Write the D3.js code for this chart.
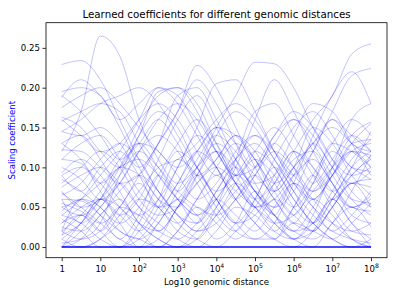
<!DOCTYPE html>
<html>
<head>
<meta charset="utf-8">
<script src="https://cdn.jsdelivr.net/npm/d3@7"></script>
<style>
  body { margin: 0; background: #fff; }
  text { font-family: "DejaVu Sans", sans-serif; }
</style>
</head>
<body>
<svg id="chart"></svg>
<script>
// Learned coefficients, one curve per learned filter
const width = 396;
const height = 297;
const margin = { top: 22.7, right: 9, bottom: 39.3, left: 46 };

// log10 of genomic distance where each coefficient was read
const logDistance = [0, 0.5, 1, 1.5, 2, 2.5, 3, 3.5, 4, 4.5, 5, 5.5, 6, 6.5, 7, 7.5, 8];

const coeffs = [
    [.229, .234, .21, .16, .11, .07, .04, .02, .04, .08, .11, .09, .05, .03, .06, .10, .12],
    [.12, .17, .265, .24, .16, .11, .08, .10, .13, .11, .07, .04, .02, .05, .09, .13, .155],
    [.195, .20, .19, .15, .10, .06, .05, .09, .14, .17, .15, .11, .08, .06, .09, .13, .135],
    [.188, .21, .19, .16, .18, .20, .18, .14, .10, .07, .05, .03, .01, .04, .10, .16, .18],
    [.163, .15, .12, .10, .14, .195, .20, .17, .12, .09, .10, .13, .16, .14, .10, .08, .095],
    [.158, .17, .18, .17, .13, .09, .06, .04, .06, .10, .16, .21, .17, .12, .08, .05, .065],
    [.145, .14, .15, .13, .10, .13, .17, .228, .20, .15, .10, .06, .03, .02, .05, .08, .085],
    [.13, .14, .11, .07, .03, .01, 0, .01, .05, .11, .17, .18, .14, .10, .07, .09, .115],
    [.122, .12, .10, .08, .09, .13, .19, .20, .16, .11, .07, .05, .07, .12, .17, .215, .224],
    [.11, .13, .14, .11, .07, .05, .06, .10, .15, .19, .232, .23, .20, .15, .11, .09, .10],
    [.093, .11, .09, .06, .04, .06, .10, .15, .205, .21, .17, .12, .08, .05, .03, .02, .03],
    [.085, .07, .05, .03, .05, .09, .13, .16, .13, .09, .06, .08, .12, .16, .19, .242, .255],
    [.07, .05, .06, .09, .12, .10, .07, .05, .04, .06, .10, .14, .16, .13, .09, .06, .055],
    [.06, .058, .04, .02, .01, .03, .07, .11, .14, .12, .09, .07, .10, .15, .13, .09, .065],
    [.05, .06, .08, .10, .11, .09, .06, .04, .07, .11, .13, .10, .06, .03, .01, 0, 0],
    [.03, .05, .06, .04, .02, .05, .10, .14, .12, .08, .05, .07, .11, .12, .08, .04, .03],
    [.025, .02, .04, .07, .09, .07, .04, .02, .03, .06, .09, .12, .10, .07, .10, .14, .157],
    [.01, .03, .06, .05, .02, 0, .02, .06, .10, .13, .11, .07, .04, .08, .13, .12, .10],
    [.005, .01, .03, .09, .14, .17, .15, .10, .06, .03, .04, .08, .12, .09, .05, .02, .015],
    [0, .02, .05, .08, .12, .14, .12, .08, .04, .02, .06, .11, .15, .17, .14, .10, .095],
    [.09, .10, .08, .05, .03, .02, .05, .09, .12, .10, .08, .09, .12, .10, .07, .05, .06],
    [.04, .03, .01, 0, .02, .06, .11, .09, .05, .02, .01, .03, .08, .14, .19, .22, .18],
    [.11, .105, .07, .04, .06, .11, .16, .19, .15, .10, .06, .04, .02, .01, .03, .07, .115],
    [.02, .04, .07, .11, .13, .12, .09, .06, .08, .12, .14, .11, .07, .04, .02, .01, .005],
    [0, 0, .01, .04, .07, .10, .11, .13, .16, .18, .16, .12, .09, .12, .16, .13, .12],
    [.065, .08, .11, .13, .11, .07, .04, .03, .06, .09, .07, .04, .02, .03, .07, .11, .135],
    [.035, .02, 0, 0, .01, .04, .08, .12, .15, .13, .10, .14, .17, .15, .11, .07, .05],
    [.015, .03, .06, .10, .15, .19, .20, .18, .13, .08, .05, .03, .04, .07, .10, .12, .115],
    [.145, .16, .18, .19, .20, .18, .14, .10, .07, .09, .12, .10, .06, .03, .01, 0, .01],
    [.055, .045, .03, .05, .09, .13, .17, .21, .18, .13, .08, .05, .09, .13, .10, .06, .04],
    [.075, .09, .10, .08, .05, .03, .01, 0, .02, .05, .04, .02, .05, .09, .13, .16, .14],
    [.02, .01, .02, .05, .04, .02, .01, .03, .06, .04, .02, .05, .08, .06, .03, .01, 0],
    [.045, .06, .05, .02, .01, 0, .02, .05, .03, .01, .03, .06, .04, .02, .05, .08, .075],
    [.01, 0, .01, .03, .06, .05, .02, .01, .04, .07, .09, .06, .03, .06, .04, .01, 0],
    [0, .01, .04, .06, .03, .01, 0, .02, .05, .08, .06, .03, .01, 0, .03, .05, .025],
    [.10, .085, .06, .08, .12, .16, .18, .16, .12, .08, .05, .06, .09, .11, .08, .05, .045],
    [.08, .10, .12, .10, .06, .04, .05, .08, .11, .14, .12, .08, .05, .08, .12, .10, .085],
    [.068, .05, .03, .01, 0, .01, .05, .08, .10, .08, .05, .02, .01, .02, .05, .09, .11],
    [.175, .19, .20, .18, .15, .12, .10, .12, .15, .14, .11, .08, .10, .13, .15, .13, .11],
    [.04, .06, .09, .12, .16, .20, .19, .15, .10, .06, .03, .01, 0, .02, .06, .10, .145],
    [.05, .04, .06, .10, .09, .06, .03, .01, 0, .02, .05, .09, .14, .18, .17, .13, .09],
    [.03, .04, .02, 0, .03, .08, .12, .10, .06, .03, .01, .01, .03, .02, .01, .03, .055],
    [.16, .14, .12, .13, .16, .18, .16, .12, .09, .11, .14, .12, .09, .07, .09, .12, .13],
    [.02, .06, .04, .01, .04, .09, .06, .03, .07, .10, .07, .04, .08, .05, .02, .04, .07],
    [.06, .03, .05, .08, .05, .02, .05, .09, .06, .03, .06, .10, .07, .03, .06, .03, .01],
    [.09, .07, .10, .12, .09, .05, .08, .12, .10, .06, .09, .13, .10, .06, .09, .12, .10],
    [0, .03, .06, .03, 0, .03, .06, .04, .01, .03, .07, .04, .01, .03, .06, .03, 0],
    [.13, .11, .08, .10, .13, .10, .07, .10, .12, .09, .12, .15, .12, .08, .11, .14, .12],
    [.015, .04, .02, .05, .08, .05, .03, .06, .09, .06, .03, .01, .05, .09, .06, .08, .05],
    [.19, .17, .14, .11, .13, .16, .13, .09, .11, .14, .11, .07, .10, .13, .16, .14, .12],
    [0, 0, 0, 0, 0, 0, 0, 0, 0, 0, 0, 0, 0, 0, 0, 0, 0]
];

const yTicks = [0, 0.05, 0.10, 0.15, 0.20, 0.25];
const xTickExps = [0, 1, 2, 3, 4, 5, 6, 7, 8];

function drawChart() {
    const svg = d3.select("#chart")
        .attr("width", width)
        .attr("height", height);

    const x = d3.scaleLog()
        .domain([10 ** -0.406, 10 ** 8.414])
        .range([margin.left, width - margin.right]);
    const y = d3.scaleLinear()
        .domain([-0.0134, 0.2816])
        .range([height - margin.bottom, margin.top]);

    const line = d3.line()
        .x((d, i) => x(10 ** logDistance[i]))
        .y(d => y(d))
        .curve(d3.curveMonotoneX);

    // curves
    svg.append("g")
        .selectAll("path")
        .data(coeffs)
        .join("path")
        .attr("d", line)
        .attr("fill", "none")
        .attr("stroke", "#0000ff")
        .attr("stroke-opacity", d => d3.max(d) === 0 ? 0.95 : 0.24)
        .attr("stroke-width", d => d3.max(d) === 0 ? 1.6 : 1);

    // frame
    svg.append("rect")
        .attr("x", margin.left)
        .attr("y", margin.top)
        .attr("width", width - margin.left - margin.right)
        .attr("height", height - margin.top - margin.bottom)
        .attr("fill", "none")
        .attr("stroke", "#000")
        .attr("stroke-width", 0.8);

    // x axis
    const xAxis = svg.append("g")
        .attr("transform", `translate(0,${height - margin.bottom})`)
        .call(d3.axisBottom(x).tickValues(xTickExps.map(e => 10 ** e)).tickSize(3.5).tickFormat(""));
    xAxis.select(".domain").remove();
    xAxis.selectAll(".tick line").attr("stroke-width", 0.8);

    const xLab = xAxis.selectAll(".tick")
        .data(xTickExps)
        .append("text")
        .attr("y", 14)
        .attr("fill", "#000")
        .attr("font-size", 8.6)
        .attr("text-anchor", "middle");
    xLab.filter(e => e < 2).text(e => e === 0 ? "1" : "10");
    xLab.filter(e => e >= 2).each(function(e) {
        const t = d3.select(this);
        t.append("tspan").text("10");
        t.append("tspan").attr("dy", -3.5).attr("font-size", 6.1).text(e);
    });

    // y axis
    const yAxis = svg.append("g")
        .attr("transform", `translate(${margin.left},0)`)
        .call(d3.axisLeft(y).tickValues(yTicks).tickSize(3.5).tickFormat(d3.format(".2f")));
    yAxis.select(".domain").remove();
    yAxis.selectAll(".tick line").attr("stroke-width", 0.8);
    yAxis.selectAll(".tick text")
        .attr("font-family", "DejaVu Sans")
        .attr("font-size", 8.6)
        .attr("fill", "#000")
        .attr("x", -6);

    // title & labels
    svg.append("text")
        .attr("x", (margin.left + width - margin.right) / 2)
        .attr("y", 17.5)
        .attr("text-anchor", "middle")
        .attr("font-size", 10.3)
        .text("Learned coefficients for different genomic distances");

    svg.append("text")
        .attr("x", (margin.left + width - margin.right) / 2)
        .attr("y", 285)
        .attr("text-anchor", "middle")
        .attr("font-size", 8.6)
        .text("Log10 genomic distance");

    svg.append("text")
        .attr("transform", `translate(15,${(margin.top + height - margin.bottom) / 2}) rotate(-90)`)
        .attr("text-anchor", "middle")
        .attr("font-size", 8.6)
        .attr("fill", "#0000ff")
        .text("Scaling coefficient");
}

window.onload = drawChart;
</script>
</body>
</html>
